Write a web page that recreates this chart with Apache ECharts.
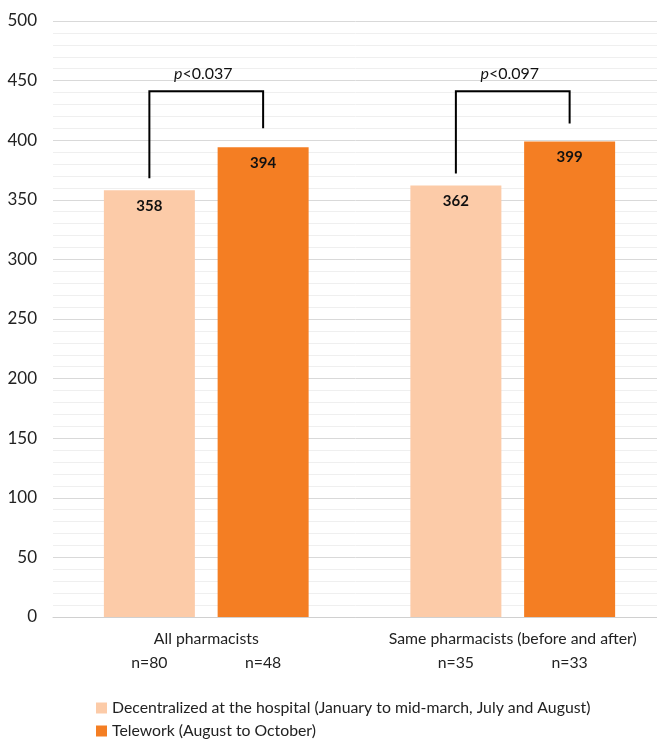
<!DOCTYPE html>
<html>
<head>
<meta charset="utf-8">
<script src="https://cdn.jsdelivr.net/npm/echarts@6/dist/echarts.min.js"></script>
<style>
  html, body { margin: 0; padding: 0; background: #fff; }
  #chart { width: 657px; height: 739px; }
</style>
</head>
<body>
<div id="chart"></div>
<script>
// Groups and series
const categories = ['All pharmacists', 'Same pharmacists (before and after)'];
const hospitalName = 'Decentralized at the hospital (January to mid-march, July and August)';
const teleworkName = 'Telework (August to October)';
const hospitalValues = [358, 362];
const teleworkValues = [394, 399];

// Sample sizes under each bar
const hospitalN = [80, 35];
const teleworkN = [48, 33];

// Significance brackets: left leg end, bracket top, right leg end, p-value text
const bracketLeft = [368, 372];
const bracketTop = [441, 441];
const bracketRight = [410, 414];
const pValues = ['<0.037', '<0.097'];

// Y axis ticks
const yMin = 0, yMax = 500, yStep = 50;

const FONT = 'Lato, "Open Sans", sans-serif';
const TEXT = '#222';
const BAR_WIDTH = 91;
const BAR_GAP = 0.25;
const LIGHT = '#FCCBA8';
const DARK = '#F47E23';

const chart = echarts.init(document.getElementById('chart'), null, { renderer: 'canvas' });

// Horizontal offset from a group's centre to each bar's centre
const barOffset = BAR_WIDTH * (1 + BAR_GAP) / 2;

// One legend block per series so they stack as two lines
function legendRow(name, top) {
  return {
    data: [name],
    left: 96,
    top: top,
    icon: 'rect',
    itemWidth: 11,
    itemHeight: 11,
    padding: 0,
    textStyle: { fontFamily: FONT, fontSize: 15.8, color: TEXT }
  };
}

const option = {
  animation: false,
  grid: {
    left: 53, width: 613, top: 21, height: 596,
    containLabel: false, outerBoundsMode: 'none'
  },
  legend: [legendRow(hospitalName, 700), legendRow(teleworkName, 723)],
  xAxis: {
    type: 'category',
    data: categories,
    axisLine: { lineStyle: { color: '#d0d0d0', width: 1 } },
    axisTick: { show: false },
    axisLabel: { interval: 0, hideOverlap: false, fontFamily: FONT, fontSize: 15.8, color: TEXT, margin: 14 }
  },
  yAxis: {
    type: 'value',
    min: yMin,
    max: yMax,
    interval: yStep,
    axisLine: { show: false },
    axisTick: { show: false },
    axisLabel: { fontFamily: FONT, fontSize: 17, color: TEXT, margin: 16 },
    splitLine: { lineStyle: { color: '#d9d9d9', width: 1 } },
    minorTick: { show: false, splitNumber: 5 },
    minorSplitLine: { show: true, lineStyle: { color: '#efefef', width: 1 } }
  },
  series: [
    {
      name: hospitalName,
      type: 'bar',
      data: hospitalValues,
      barWidth: BAR_WIDTH,
      barGap: (BAR_GAP * 100) + '%',
      itemStyle: { color: LIGHT },
      label: {
        show: true, position: 'insideTop', distance: 8,
        fontFamily: FONT, fontSize: 15, fontWeight: 'bold', color: '#111'
      }
    },
    {
      name: teleworkName,
      type: 'bar',
      data: teleworkValues,
      barWidth: BAR_WIDTH,
      itemStyle: { color: DARK },
      label: {
        show: true, position: 'insideTop', distance: 8,
        fontFamily: FONT, fontSize: 15, fontWeight: 'bold', color: '#111'
      }
    },
    {
      // significance brackets with p-values above them
      type: 'custom',
      clip: false,
      silent: true,
      data: categories.map((c, i) => [i, bracketLeft[i], bracketTop[i], bracketRight[i]]),
      encode: { x: 0, y: [1, 2, 3] },
      renderItem: function (params, api) {
        const i = api.value(0);
        const top = api.coord([i, api.value(2)]);
        const yl = api.coord([i, api.value(1)])[1];
        const yr = api.coord([i, api.value(3)])[1];
        const xl = top[0] - barOffset;
        const xr = top[0] + barOffset;
        return {
          type: 'group',
          children: [
            {
              type: 'polyline',
              shape: { points: [[xl, yl], [xl, top[1]], [xr, top[1]], [xr, yr]] },
              style: { stroke: '#000', lineWidth: 2, fill: null }
            },
            {
              type: 'text',
              x: (xl + xr) / 2 - 3,
              y: top[1] - 9,
              style: {
                text: '{i|p}' + pValues[params.dataIndex],
                rich: { i: { fontStyle: 'italic', fontFamily: FONT, fontSize: 16, fill: '#111' } },
                fontFamily: FONT,
                fontSize: 16,
                fill: '#111',
                align: 'center',
                verticalAlign: 'bottom'
              }
            }
          ]
        };
      }
    },
    {
      // sample sizes below each bar
      type: 'custom',
      clip: false,
      silent: true,
      data: categories.map((c, i) => [i, 0]),
      encode: { x: 0, y: 1 },
      renderItem: function (params, api) {
        const i = api.value(0);
        const base = api.coord([i, 0]);
        const mk = (x, txt) => ({
          type: 'text',
          x: x,
          y: base[1] + 46,
          style: {
            text: txt, fontFamily: FONT, fontSize: 15.8, fill: TEXT,
            align: 'center', verticalAlign: 'middle'
          }
        });
        return {
          type: 'group',
          children: [
            mk(base[0] - barOffset, 'n=' + hospitalN[i]),
            mk(base[0] + barOffset, 'n=' + teleworkN[i])
          ]
        };
      }
    }
  ]
};

chart.setOption(option);
</script>
</body>
</html>
